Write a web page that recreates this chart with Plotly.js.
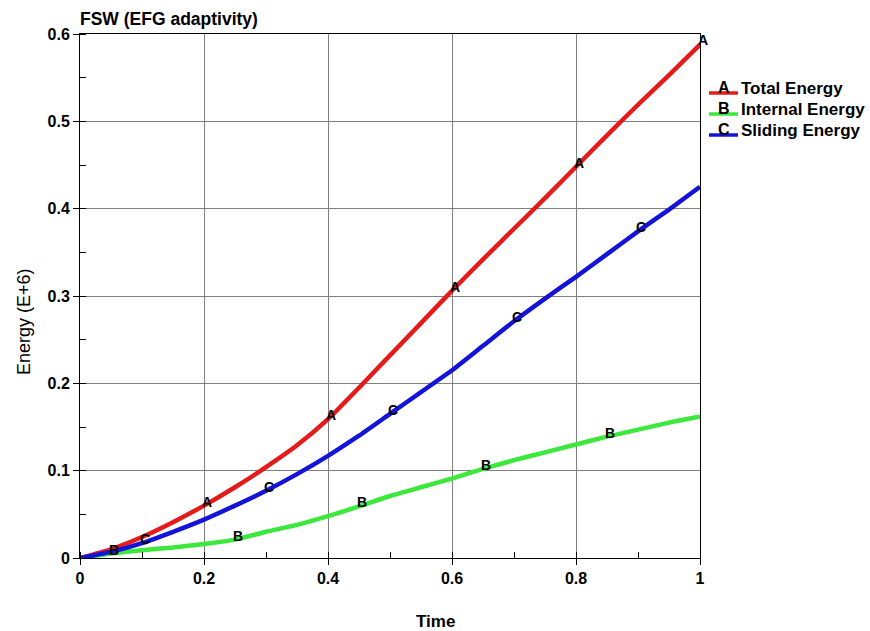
<!DOCTYPE html>
<html>
<head>
<meta charset="utf-8">
<script src="https://cdn.plot.ly/plotly-3.0.1.min.js"></script>
<style>html,body{margin:0;padding:0;background:#fff;}#chart{width:870px;height:631px;}</style>
</head>
<body>
<div id="chart"></div>
<script>
var time = [0,0.05,0.1,0.15,0.2,0.25,0.3,0.35,0.4,0.45,0.5,0.55,0.6,0.65,0.7,0.75,0.8,0.85,0.9,0.95,1.0];
var totalEnergy = [0,0.010,0.024,0.041,0.060,0.081,0.104,0.129,0.159,0.195,0.232,0.269,0.306,0.342,0.377,0.412,0.448,0.484,0.519,0.553,0.588];
var internalEnergy = [0,0.005,0.009,0.012,0.016,0.021,0.030,0.038,0.048,0.059,0.071,0.081,0.091,0.102,0.112,0.121,0.130,0.139,0.147,0.155,0.162];
var slidingEnergy = [0,0.007,0.017,0.030,0.044,0.060,0.077,0.096,0.117,0.140,0.165,0.190,0.215,0.243,0.271,0.297,0.322,0.348,0.374,0.399,0.425];

var seriesNames = ['Total Energy','Internal Energy','Sliding Energy'];
var seriesLetters = ['A','B','C'];
var seriesColors = ['#e61a1a','#3be83b','#1414d8'];
var seriesData = [totalEnergy, internalEnergy, slidingEnergy];
// indices in time[] where each letter marker sits
var letterIdx = [[4,8,12,16,20],[1,5,9,13,17],[2,6,10,14,18]];

var xTitle = 'Time';
var yTitle = 'Energy (E+6)';
var chartTitle = 'FSW (EFG adaptivity)';

var FONT = 'Liberation Sans, Arial, sans-serif';
var traces = seriesData.map(function(d,i){
  return {x: time, y: d, type:'scatter', mode:'lines', name: seriesNames[i], showlegend:false,
          line:{color: seriesColors[i], width:4.5, shape:'spline', smoothing:0.5}};
});

var annotations = [];
var shapes = [];
letterIdx.forEach(function(idxs,i){
  idxs.forEach(function(k){
    annotations.push({x: time[k], y: seriesData[i][k], xref:'x', yref:'y', text: seriesLetters[i],
      showarrow:false, xshift:3, yshift:4, font:{family:FONT, size:14, color:'#000', weight:'bold'}});
  });
});

// pixel layout converted to paper coords of the 620x524 plot area
function px2x(px){ return (px-80)/620; }
function py2y(py){ return (558-py)/524; }
var legendBase = [93,114,135];
legendBase.forEach(function(b,i){
  shapes.push({type:'line', xref:'paper', yref:'paper', x0:px2x(709), x1:px2x(738), y0:py2y(b), y1:py2y(b),
               line:{color:seriesColors[i], width:3.5}});
  annotations.push({x:px2x(724), y:py2y(b+1), xref:'paper', yref:'paper', text:seriesLetters[i], showarrow:false,
                    xanchor:'center', yanchor:'bottom', yshift:-4, font:{family:FONT, size:16, color:'#000', weight:'bold'}});
  annotations.push({x:px2x(739), y:py2y(b+1), xref:'paper', yref:'paper', text:seriesNames[i], showarrow:false,
                    xanchor:'left', yanchor:'bottom', yshift:-6, font:{family:FONT, size:17, color:'#000', weight:'bold'}});
});
// axis titles
annotations.push({x:px2x(435), y:py2y(621), xref:'paper', yref:'paper', text:xTitle, showarrow:false,
                  xanchor:'center', yanchor:'middle', font:{family:FONT, size:17, color:'#000', weight:'bold'}});
annotations.push({x:px2x(24), y:py2y(322), xref:'paper', yref:'paper', text:yTitle, showarrow:false, textangle:-90,
                  xanchor:'center', yanchor:'middle', font:{family:FONT, size:18, color:'#000', weight:'normal'}});

var layout = {
  width:870, height:631,
  margin:{l:80, r:170, t:34, b:73, pad:0},
  paper_bgcolor:'#fff', plot_bgcolor:'#fff',
  font:{family:FONT, size:16, color:'#000', weight:'bold'},
  showlegend:false,
  title:{text:chartTitle, xref:'container', yref:'container', x:80/870, xanchor:'left', y:1-19/631, yanchor:'middle',
         font:{family:FONT, size:17.5, color:'#000', weight:'bold'}},
  xaxis:{range:[0,1], tickvals:[0,0.2,0.4,0.6,0.8,1], ticktext:['0','0.2','0.4','0.6','0.8','1'],
         showgrid:true, gridcolor:'#7f7f7f', gridwidth:1, zeroline:false,
         showline:true, linecolor:'#000', linewidth:1, mirror:true,
         ticks:'outside', ticklen:6, tickcolor:'#000',
         minor:{dtick:0.1, tick0:0, ticks:'inside', ticklen:6, tickcolor:'#000', showgrid:false},
         tickfont:{family:FONT, size:16, weight:'bold'}},
  yaxis:{range:[0,0.6], tickvals:[0,0.1,0.2,0.3,0.4,0.5,0.6], ticktext:['0','0.1','0.2','0.3','0.4','0.5','0.6'],
         showgrid:true, gridcolor:'#7f7f7f', gridwidth:1, zeroline:false,
         showline:true, linecolor:'#000', linewidth:1, mirror:true,
         ticks:'outside', ticklen:6, tickcolor:'#000',
         minor:{dtick:0.05, tick0:0, ticks:'inside', ticklen:6, tickcolor:'#000', showgrid:false},
         tickfont:{family:FONT, size:16, weight:'bold'}},
  annotations: annotations,
  shapes: shapes
};
Plotly.newPlot('chart', traces, layout, {displayModeBar:false, staticPlot:true});
</script>
</body>
</html>
